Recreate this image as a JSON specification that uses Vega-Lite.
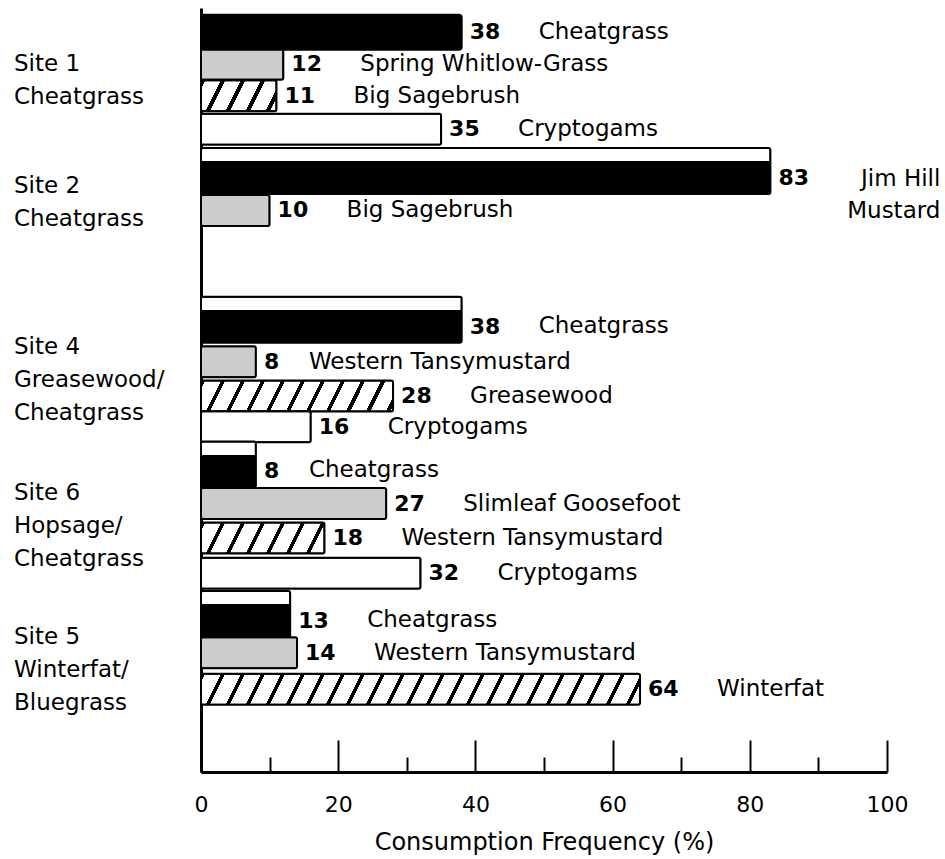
{
  "$schema": "https://vega.github.io/schema/vega-lite/v6.json",
  "width": 686,
  "height": 764,
  "autosize": {"type": "none"},
  "padding": {"left": 201, "top": 8, "right": 58, "bottom": 87},
  "background": "white",
  "config": {"view": {"stroke": null}, "font": "DejaVu Sans"},
  "datasets": {
    "bars": [
      {"site": "Site 1", "name": "Cheatgrass", "value": 38, "rank": 1, "slot": 0},
      {"site": "Site 1", "name": "Spring Whitlow-Grass", "value": 12, "rank": 2, "slot": 0.98},
      {"site": "Site 1", "name": "Big Sagebrush", "value": 11, "rank": 3, "slot": 1.95},
      {"site": "Site 1", "name": "Cryptogams", "value": 35, "rank": 4, "slot": 2.98},
      {"site": "Site 2", "name": "Jim Hill\nMustard", "value": 83, "rank": 1, "slot": 4.26},
      {"site": "Site 2", "name": "Big Sagebrush", "value": 10, "rank": 2, "slot": 5.47},
      {"site": "Site 4", "name": "Cheatgrass", "value": 38, "rank": 1, "slot": 8.83},
      {"site": "Site 4", "name": "Western Tansymustard", "value": 8, "rank": 2, "slot": 10.12},
      {"site": "Site 4", "name": "Greasewood", "value": 28, "rank": 3, "slot": 11.17},
      {"site": "Site 4", "name": "Cryptogams", "value": 16, "rank": 4, "slot": 12.11},
      {"site": "Site 6", "name": "Cheatgrass", "value": 8, "rank": 1, "slot": 13.27},
      {"site": "Site 6", "name": "Slimleaf Goosefoot", "value": 27, "rank": 2, "slot": 14.47},
      {"site": "Site 6", "name": "Western Tansymustard", "value": 18, "rank": 3, "slot": 15.53},
      {"site": "Site 6", "name": "Cryptogams", "value": 32, "rank": 4, "slot": 16.61},
      {"site": "Site 5", "name": "Cheatgrass", "value": 13, "rank": 1, "slot": 17.86},
      {"site": "Site 5", "name": "Western Tansymustard", "value": 14, "rank": 2, "slot": 19.05},
      {"site": "Site 5", "name": "Winterfat", "value": 64, "rank": 3, "slot": 20.17}
    ],
    "sites": [
      {"label": "Site 1\nCheatgrass", "slot": 0.99},
      {"label": "Site 2\nCheatgrass", "slot": 4.72},
      {"label": "Site 4\nGreasewood/\nCheatgrass", "slot": 9.65},
      {"label": "Site 6\nHopsage/\nCheatgrass", "slot": 14.14},
      {"label": "Site 5\nWinterfat/\nBluegrass", "slot": 18.56}
    ]
  },
  "resolve": {"axis": {"x": "independent"}},
  "layer": [
    {
      "data": {"name": "bars"},
      "transform": [{"filter": "datum.rank !== 1"}],
      "mark": {"type": "bar", "orient": "horizontal", "stroke": "black", "strokeWidth": 2, "cornerRadius": 2, "size": 31},
      "encoding": {
        "x": {
          "field": "value", "type": "quantitative",
          "scale": {"domain": [0, 100], "nice": false, "zero": true},
          "axis": {
            "orient": "bottom", "values": [0, 20, 40, 60, 80, 100], "tickSize": -32, "tickWidth": 2, "tickColor": "black",
            "domainColor": "black", "domainWidth": 3, "grid": false,
            "labelFont": "DejaVu Sans", "labelFontSize": 22, "labelColor": "black", "labelPadding": 54, "labelFlush": false, "labelOverlap": false,
            "title": "Consumption Frequency (%)", "titleFont": "DejaVu Sans", "titleFontSize": 24, "titleFontWeight": "normal", "titleColor": "black", "titlePadding": 15
          }
        },
        "y": {
          "field": "slot", "type": "quantitative",
          "scale": {"domain": [-0.59, 22.56], "reverse": true, "nice": false, "zero": false},
          "axis": {"title": null, "labels": false, "ticks": false, "grid": false, "domainColor": "black", "domainWidth": 3}
        },
        "fill": {
          "condition": [
            {"test": "datum.rank===2", "value": "#cccccc"},
            {"test": "datum.rank===3 && datum.value===11", "value": {"gradient": "linear", "x1": 0, "y1": 0, "x2": 1.1566, "y2": 0.2376, "stops": [
              {"offset": 0, "color": "#000"}, {"offset": 0.048, "color": "#000"}, {"offset": 0.048, "color": "#fff"}, {"offset": 0.22, "color": "#fff"},
              {"offset": 0.22, "color": "#000"}, {"offset": 0.268, "color": "#000"}, {"offset": 0.268, "color": "#fff"}, {"offset": 0.44, "color": "#fff"},
              {"offset": 0.44, "color": "#000"}, {"offset": 0.488, "color": "#000"}, {"offset": 0.488, "color": "#fff"}, {"offset": 0.66, "color": "#fff"},
              {"offset": 0.66, "color": "#000"}, {"offset": 0.708, "color": "#000"}, {"offset": 0.708, "color": "#fff"}, {"offset": 0.88, "color": "#fff"},
              {"offset": 0.88, "color": "#000"}, {"offset": 0.928, "color": "#000"}, {"offset": 0.928, "color": "#fff"}, {"offset": 1, "color": "#fff"}]}},
            {"test": "datum.rank===3 && datum.value===28", "value": {"gradient": "linear", "x1": 0, "y1": 0, "x2": 1.0737, "y2": 0.0866, "stops": [
              {"offset": 0, "color": "#000"}, {"offset": 0.0212, "color": "#000"}, {"offset": 0.0212, "color": "#fff"}, {"offset": 0.0964, "color": "#fff"},
              {"offset": 0.0964, "color": "#000"}, {"offset": 0.1176, "color": "#000"}, {"offset": 0.1176, "color": "#fff"}, {"offset": 0.1928, "color": "#fff"},
              {"offset": 0.1928, "color": "#000"}, {"offset": 0.214, "color": "#000"}, {"offset": 0.214, "color": "#fff"}, {"offset": 0.2892, "color": "#fff"},
              {"offset": 0.2892, "color": "#000"}, {"offset": 0.3104, "color": "#000"}, {"offset": 0.3104, "color": "#fff"}, {"offset": 0.3856, "color": "#fff"},
              {"offset": 0.3856, "color": "#000"}, {"offset": 0.4068, "color": "#000"}, {"offset": 0.4068, "color": "#fff"}, {"offset": 0.482, "color": "#fff"},
              {"offset": 0.482, "color": "#000"}, {"offset": 0.5032, "color": "#000"}, {"offset": 0.5032, "color": "#fff"}, {"offset": 0.5784, "color": "#fff"},
              {"offset": 0.5784, "color": "#000"}, {"offset": 0.5996, "color": "#000"}, {"offset": 0.5996, "color": "#fff"}, {"offset": 0.6748, "color": "#fff"},
              {"offset": 0.6748, "color": "#000"}, {"offset": 0.696, "color": "#000"}, {"offset": 0.696, "color": "#fff"}, {"offset": 0.7712, "color": "#fff"},
              {"offset": 0.7712, "color": "#000"}, {"offset": 0.7924, "color": "#000"}, {"offset": 0.7924, "color": "#fff"}, {"offset": 0.8676, "color": "#fff"},
              {"offset": 0.8676, "color": "#000"}, {"offset": 0.8888, "color": "#000"}, {"offset": 0.8888, "color": "#fff"}, {"offset": 0.964, "color": "#fff"},
              {"offset": 0.964, "color": "#000"}, {"offset": 0.9852, "color": "#000"}, {"offset": 0.9852, "color": "#fff"}, {"offset": 1, "color": "#fff"}]}},
            {"test": "datum.rank===3 && datum.value===18", "value": {"gradient": "linear", "x1": 0, "y1": 0, "x2": 1.108, "y2": 0.1391, "stops": [
              {"offset": 0, "color": "#000"}, {"offset": 0.0317, "color": "#000"}, {"offset": 0.0317, "color": "#fff"}, {"offset": 0.1439, "color": "#fff"},
              {"offset": 0.1439, "color": "#000"}, {"offset": 0.1756, "color": "#000"}, {"offset": 0.1756, "color": "#fff"}, {"offset": 0.2878, "color": "#fff"},
              {"offset": 0.2878, "color": "#000"}, {"offset": 0.3195, "color": "#000"}, {"offset": 0.3195, "color": "#fff"}, {"offset": 0.4317, "color": "#fff"},
              {"offset": 0.4317, "color": "#000"}, {"offset": 0.4634, "color": "#000"}, {"offset": 0.4634, "color": "#fff"}, {"offset": 0.5756, "color": "#fff"},
              {"offset": 0.5756, "color": "#000"}, {"offset": 0.6073, "color": "#000"}, {"offset": 0.6073, "color": "#fff"}, {"offset": 0.7195, "color": "#fff"},
              {"offset": 0.7195, "color": "#000"}, {"offset": 0.7512, "color": "#000"}, {"offset": 0.7512, "color": "#fff"}, {"offset": 0.8634, "color": "#fff"},
              {"offset": 0.8634, "color": "#000"}, {"offset": 0.8951, "color": "#000"}, {"offset": 0.8951, "color": "#fff"}, {"offset": 1, "color": "#fff"}]}},
            {"test": "datum.rank===3 && datum.value===64", "value": {"gradient": "linear", "x1": 0, "y1": 0, "x2": 1.034, "y2": 0.0365, "stops": [
              {"offset": 0, "color": "#000"}, {"offset": 0.0097, "color": "#000"}, {"offset": 0.0097, "color": "#fff"}, {"offset": 0.044, "color": "#fff"},
              {"offset": 0.044, "color": "#000"}, {"offset": 0.0537, "color": "#000"}, {"offset": 0.0537, "color": "#fff"}, {"offset": 0.088, "color": "#fff"},
              {"offset": 0.088, "color": "#000"}, {"offset": 0.0977, "color": "#000"}, {"offset": 0.0977, "color": "#fff"}, {"offset": 0.132, "color": "#fff"},
              {"offset": 0.132, "color": "#000"}, {"offset": 0.1417, "color": "#000"}, {"offset": 0.1417, "color": "#fff"}, {"offset": 0.176, "color": "#fff"},
              {"offset": 0.176, "color": "#000"}, {"offset": 0.1857, "color": "#000"}, {"offset": 0.1857, "color": "#fff"}, {"offset": 0.22, "color": "#fff"},
              {"offset": 0.22, "color": "#000"}, {"offset": 0.2297, "color": "#000"}, {"offset": 0.2297, "color": "#fff"}, {"offset": 0.264, "color": "#fff"},
              {"offset": 0.264, "color": "#000"}, {"offset": 0.2737, "color": "#000"}, {"offset": 0.2737, "color": "#fff"}, {"offset": 0.308, "color": "#fff"},
              {"offset": 0.308, "color": "#000"}, {"offset": 0.3177, "color": "#000"}, {"offset": 0.3177, "color": "#fff"}, {"offset": 0.352, "color": "#fff"},
              {"offset": 0.352, "color": "#000"}, {"offset": 0.3617, "color": "#000"}, {"offset": 0.3617, "color": "#fff"}, {"offset": 0.396, "color": "#fff"},
              {"offset": 0.396, "color": "#000"}, {"offset": 0.4057, "color": "#000"}, {"offset": 0.4057, "color": "#fff"}, {"offset": 0.44, "color": "#fff"},
              {"offset": 0.44, "color": "#000"}, {"offset": 0.4497, "color": "#000"}, {"offset": 0.4497, "color": "#fff"}, {"offset": 0.484, "color": "#fff"},
              {"offset": 0.484, "color": "#000"}, {"offset": 0.4937, "color": "#000"}, {"offset": 0.4937, "color": "#fff"}, {"offset": 0.528, "color": "#fff"},
              {"offset": 0.528, "color": "#000"}, {"offset": 0.5377, "color": "#000"}, {"offset": 0.5377, "color": "#fff"}, {"offset": 0.572, "color": "#fff"},
              {"offset": 0.572, "color": "#000"}, {"offset": 0.5817, "color": "#000"}, {"offset": 0.5817, "color": "#fff"}, {"offset": 0.616, "color": "#fff"},
              {"offset": 0.616, "color": "#000"}, {"offset": 0.6257, "color": "#000"}, {"offset": 0.6257, "color": "#fff"}, {"offset": 0.66, "color": "#fff"},
              {"offset": 0.66, "color": "#000"}, {"offset": 0.6697, "color": "#000"}, {"offset": 0.6697, "color": "#fff"}, {"offset": 0.704, "color": "#fff"},
              {"offset": 0.704, "color": "#000"}, {"offset": 0.7137, "color": "#000"}, {"offset": 0.7137, "color": "#fff"}, {"offset": 0.748, "color": "#fff"},
              {"offset": 0.748, "color": "#000"}, {"offset": 0.7577, "color": "#000"}, {"offset": 0.7577, "color": "#fff"}, {"offset": 0.792, "color": "#fff"},
              {"offset": 0.792, "color": "#000"}, {"offset": 0.8017, "color": "#000"}, {"offset": 0.8017, "color": "#fff"}, {"offset": 0.836, "color": "#fff"},
              {"offset": 0.836, "color": "#000"}, {"offset": 0.8457, "color": "#000"}, {"offset": 0.8457, "color": "#fff"}, {"offset": 0.88, "color": "#fff"},
              {"offset": 0.88, "color": "#000"}, {"offset": 0.8897, "color": "#000"}, {"offset": 0.8897, "color": "#fff"}, {"offset": 0.924, "color": "#fff"},
              {"offset": 0.924, "color": "#000"}, {"offset": 0.9337, "color": "#000"}, {"offset": 0.9337, "color": "#fff"}, {"offset": 0.968, "color": "#fff"},
              {"offset": 0.968, "color": "#000"}, {"offset": 0.9777, "color": "#000"}, {"offset": 0.9777, "color": "#fff"}, {"offset": 1, "color": "#fff"}]}}
          ],
          "value": "#ffffff"
        }
      }
    },
    {
      "data": {"name": "bars"},
      "transform": [{"filter": "datum.rank === 1 && datum.site !== 'Site 1'"}],
      "mark": {"type": "bar", "orient": "horizontal", "stroke": "black", "strokeWidth": 2, "cornerRadius": 2, "size": 46,
        "fill": {"gradient": "linear", "x1": 0, "y1": 0, "x2": 0, "y2": 1, "stops": [
          {"offset": 0, "color": "#fff"}, {"offset": 0.29, "color": "#fff"}, {"offset": 0.29, "color": "#000"}, {"offset": 1, "color": "#000"}]}},
      "encoding": {
        "x": {"field": "value", "type": "quantitative", "axis": null},
        "y": {"field": "slot", "type": "quantitative"}
      }
    },
    {
      "data": {"name": "bars"},
      "transform": [{"filter": "datum.rank === 1 && datum.site === 'Site 1'"}],
      "mark": {"type": "bar", "orient": "horizontal", "stroke": "black", "strokeWidth": 2, "cornerRadius": 3, "size": 35, "fill": "#000000"},
      "encoding": {
        "x": {"field": "value", "type": "quantitative", "axis": null},
        "y": {"field": "slot", "type": "quantitative"}
      }
    },
    {
      "data": {"name": "bars"},
      "mark": {"type": "text", "align": "left", "baseline": "middle", "dx": 8,
        "dy": {"expr": "datum.rank===1 && datum.site!=='Site 1' ? 7 : 0"},
        "font": "DejaVu Sans", "fontWeight": "bold", "fontSize": 22, "fill": "black"},
      "encoding": {
        "x": {"field": "value", "type": "quantitative", "axis": null},
        "y": {"field": "slot", "type": "quantitative"},
        "text": {"field": "value", "type": "quantitative"}
      }
    },
    {
      "data": {"name": "bars"},
      "mark": {"type": "text", "baseline": "middle", "lineBreak": "\n", "lineHeight": 32,
        "font": "DejaVu Sans", "fontSize": 23, "fill": "black",
        "align": {"expr": "datum.value>80 ? 'right' : 'left'"},
        "dx": {"expr": "datum.value>80 ? 170 : (datum.value<10 ? 53 : 77)"},
        "dy": {"expr": "datum.value>80 ? 8 : (datum.rank===1 && datum.site!=='Site 1' ? 6 : 0)"}},
      "encoding": {
        "x": {"field": "value", "type": "quantitative", "axis": null},
        "y": {"field": "slot", "type": "quantitative"},
        "text": {"field": "name", "type": "nominal"}
      }
    },
    {
      "data": {"name": "sites"},
      "mark": {"type": "text", "align": "left", "baseline": "middle", "dx": -187, "lineBreak": "\n", "lineHeight": 33,
        "font": "DejaVu Sans", "fontSize": 23, "fill": "black"},
      "encoding": {
        "x": {"datum": 0, "type": "quantitative",
          "axis": {"orient": "bottom", "values": [10, 30, 50, 70, 90], "tickSize": -15, "tickWidth": 2, "tickColor": "black",
            "labels": false, "domain": false, "grid": false, "title": null}},
        "y": {"field": "slot", "type": "quantitative"},
        "text": {"field": "label", "type": "nominal"}
      }
    }
  ]
}
